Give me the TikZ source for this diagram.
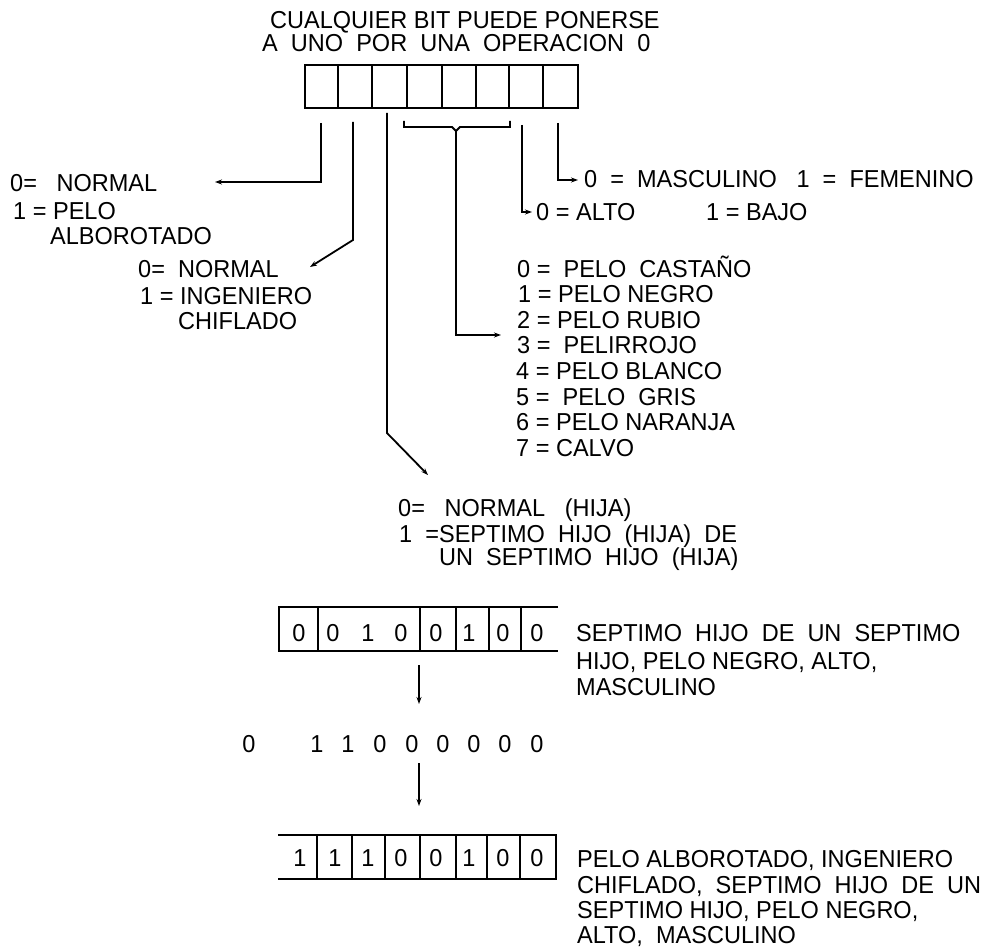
\documentclass[tikz,border=0pt]{standalone}
\usepackage{fontspec}
\setmainfont{Liberation Sans}[FakeStretch=0.96]
\usetikzlibrary{arrows.meta}
\begin{document}
\begin{tikzpicture}[x=1pt,y=-1pt,
  every node/.style={font=\fontsize{24.5}{26}\selectfont, inner sep=0pt},
  lbl/.style={anchor=base west},
  dig/.style={anchor=base},
  conn/.style={line width=1.8pt},
  arr/.style={conn,-{Stealth[length=7pt,width=5pt]}},
  reg/.style={line width=2.3pt}]
\useasboundingbox (0,0) rectangle (991,947);

% ---------- title ----------
\node[lbl] (t1) at (270,29) {CUALQUIER BIT PUEDE PONERSE};
\node[lbl] (t2) at (262,52) {A\ \ UNO\ \ POR\ \ UNA\ \ OPERACION\ \ 0};

% ---------- top register ----------
\draw[reg] (305,65) rectangle (578,108);
\foreach \x in {338,372,407,442,476,509,543} \draw[reg] (\x,65) -- (\x,108);

% start points of the bit connectors
\coordinate (s0) at (321,123);
\coordinate (s1) at (353,122);
\coordinate (s2) at (387,113);
\coordinate (s6) at (522,125);
\coordinate (s7) at (558,123);
\coordinate (br) at (456,131);

% ---------- labels ----------
\node[lbl] (n0a) at (10,192) {0=\ \ \ NORMAL};
\node[lbl] (n0b) at (13,219) {1 = PELO};
\node[lbl] (n0c) at (50,244) {ALBOROTADO};

\node[lbl] (n1a) at (138,277) {0=\ \ NORMAL};
\node[lbl] (n1b) at (140,304) {1 = INGENIERO};
\node[lbl] (n1c) at (178,329) {CHIFLADO};

\node[lbl] (masc) at (584,188) {0\ \ =\ \ MASCULINO\ \ \ 1\ \ =\ \ FEMENINO};
\node[lbl] (alto) at (536,220) {0 = ALTO};
\node[lbl] (bajo) at (706,220) {1 = BAJO};

\node[lbl] (h0) at (517,277) {0 =\ \ PELO\ \ CASTAÑO};
\node[lbl] (h1) at (518,302.6) {1 = PELO\ NEGRO};
\node[lbl] (h2) at (517,328.2) {2 = PELO RUBIO};
\node[lbl] (h3) at (517,353.8) {3 =\ \ PELIRROJO};
\node[lbl] (h4) at (516,379.4) {4 = PELO BLANCO};
\node[lbl] (h5) at (516,405) {5 =\ \ PELO\ \ GRIS};
\node[lbl] (h6) at (516,430.6) {6 = PELO NARANJA};
\node[lbl] (h7) at (516,456.2) {7 = CALVO};

\node[lbl] (j0) at (398,516) {0=\ \ \ NORMAL\ \ \ (HIJA)};
\node[lbl] (j1) at (399,542) {1\ \ =SEPTIMO\ \ HIJO\ \ (HIJA)\ \ DE};
\node[lbl] (j2) at (439,565) {UN\ \ SEPTIMO\ \ HIJO\ \ (HIJA)};

% ---------- connectors from the top register ----------
\coordinate (e0) at (215,182);
\coordinate (e1) at (310,267);
\coordinate (k2) at (387,433);
\coordinate (e2) at (428,475);
\coordinate (e3) at (501,335);
\coordinate (e6) at (532,212);
\coordinate (e7) at (578,180);

\draw[arr] (s0) |- (e0);
\draw[arr] (s1) -- (353,240) -- (e1);
\draw[arr] (s2) -- (k2) -- (e2);
\draw[conn] (404,121) -- (404,127) -- (452,127) -- (br) -- (460,127) -- (510,127) -- (510,121);
\draw[arr] (br) |- (e3);
\draw[arr] (s6) |- (e6);
\draw[arr] (s7) |- (e7);

% ---------- first example register ----------
\draw[reg] (558,607) -- (279,607) -- (279,651) -- (558,651);
\foreach \x in {318,420,456,489,521} \draw[reg] (\x,607) -- (\x,651);
\foreach \x/\d [count=\i] in {299/0,333/0,368/1,401/0,436/0,469/1,503/0,537/0}
  \node[dig] (r1d\i) at (\x,641) {\d};

\node[lbl] (x1) at (576,641) {SEPTIMO\ \ HIJO\ \ DE\ \ UN\ \ SEPTIMO};
\node[lbl] (x2) at (576,669) {HIJO, PELO NEGRO, ALTO,};
\node[lbl] (x3) at (576,695) {MASCULINO};

\coordinate (a1s) at (419,665);
\coordinate (a1e) at (419,704);
\draw[arr] (a1s) -- (a1e);

% ---------- operand row ----------
\foreach \x/\d [count=\i] in {249/0,317/1,348/1,380/0,412/0,443/0,474/0,505/0,537/0}
  \node[dig] (od\i) at (\x,752) {\d};

\coordinate (a2s) at (419,763);
\coordinate (a2e) at (419,806);
\draw[arr] (a2s) -- (a2e);

% ---------- result register ----------
\draw[reg] (278,835) -- (556,835) -- (556,879) -- (278,879);
\foreach \x in {317,352,385,420,456,487,520} \draw[reg] (\x,835) -- (\x,879);
\foreach \x/\d [count=\i] in {300/1,335/1,368/1,401/0,436/0,469/1,503/0,537/0}
  \node[dig] (r2d\i) at (\x,866) {\d};

\node[lbl] (y1) at (577,867) {PELO ALBOROTADO, INGENIERO};
\node[lbl] (y2) at (577,893) {CHIFLADO,\ \ SEPTIMO\ \ HIJO\ \ DE\ \ UN};
\node[lbl] (y3) at (577,918) {SEPTIMO HIJO, PELO NEGRO,};
\node[lbl] (y4) at (577,943) {ALTO,\ \ MASCULINO};
\end{tikzpicture}
\end{document}
